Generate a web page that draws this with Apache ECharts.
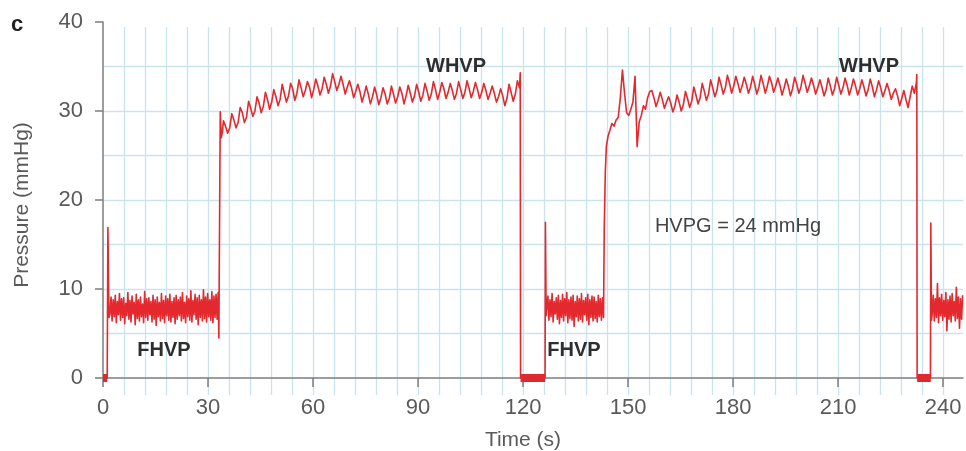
<!DOCTYPE html>
<html><head><meta charset="utf-8">
<script src="https://cdn.jsdelivr.net/npm/echarts@6/dist/echarts.min.js"></script>
<style>html,body{margin:0;padding:0;background:#fff}#c{width:966px;height:451px}</style>
</head><body><div id="c"></div>
<script>
// ---- data (time in s, pressure in mmHg) ----
const xTicks = [0, 30, 60, 90, 120, 150, 180, 210, 240];
const yTicks = [0, 10, 20, 30, 40];
const xMax = 245.7;

const start = [[0,0],[1.2,0],[1.4,16.9],[1.7,6.8]];
const fhvpStep = 0.3;
const whvpStep = 0.6;

const fhvp1Start = 2.0;
const fhvp1 = [
7.2,9.1,6.4,8.8,6.9,9.3,6.2,8.6,7.1,9.5,
6.5,8.9,6.8,9.0,6.1,8.4,7.0,9.6,6.6,8.7,
6.3,9.2,7.2,8.5,6.0,9.4,6.7,8.8,6.4,9.1,
6.9,8.3,6.2,9.7,6.8,8.9,6.5,9.0,7.1,8.6,
6.3,9.3,6.6,8.8,5.9,9.1,6.9,8.5,6.4,9.5,
6.7,8.7,6.2,9.2,7.0,8.9,6.5,9.4,6.3,8.6,
6.8,9.0,6.1,9.3,6.6,8.8,7.0,9.1,6.4,9.6,
6.7,8.5,6.2,9.2,6.9,8.9,6.5,9.8,6.3,8.7,
7.1,9.4,6.6,9.0,6.0,9.3,6.8,8.8,6.4,9.9,
6.7,9.1,6.3,9.5,6.9,8.8,6.5,9.7,6.2,9.2,
6.8,9.4,6.6,9.6
];
const rise1 = [[33.1,4.5],[33.5,29.9],[33.8,27.0],[34.1,27.6]];

const whvp1Start = 34.4;
const whvp1 = [
28.9,28.3,27.5,28.1, 29.7,29.0,28.1,28.7, 30.4,29.8,28.7,29.3, 31.1,30.3,29.4,30.0,
31.6,30.9,29.8,30.5, 32.1,31.3,30.2,31.0, 32.4,31.6,30.6,31.3, 33.0,32.0,31.0,31.7,
33.1,32.5,31.2,32.0, 33.5,32.6,31.6,32.3, 33.3,32.7,31.5,32.4, 33.6,32.8,31.8,32.5,
33.8,33.0,32.0,32.8, 34.2,33.3,32.3,33.0, 33.9,33.0,31.9,32.7, 33.4,32.6,31.5,32.2,
33.0,32.2,31.0,31.8, 32.8,31.9,30.8,31.6, 32.7,31.8,30.7,31.5, 32.6,31.9,30.8,31.4,
32.8,31.9,30.9,31.6, 32.7,32.0,30.8,31.7, 32.9,32.0,31.0,31.7, 33.0,32.1,31.1,31.8,
33.1,32.2,31.2,31.9, 33.3,32.4,31.3,32.1, 33.2,32.5,31.4,32.1, 33.1,32.3,31.3,32.0,
33.3,32.4,31.4,32.1, 33.4,32.5,31.5,32.2, 33.2,32.4,31.4,32.1, 33.1,32.3,31.3,32.0,
32.8,32.0,31.0,31.6, 32.5,31.7,30.6,31.4, 33.0,32.1,31.1,31.9, 33.4,32.6
];
const drop1 = [[119.2,34.3],[119.3,0],[126.3,0],[126.4,17.5],[126.6,7.0]];

const fhvp2Start = 126.8;
const fhvp2 = [
7.0,9.2,6.5,8.8,6.9,9.5,6.3,8.6,7.2,9.0,
6.6,9.3,6.1,8.7,6.8,9.4,6.4,8.9,7.0,9.6,
6.2,8.8,6.7,9.1,6.5,9.3,5.8,8.6,6.9,9.2,
6.4,8.9,6.6,9.5,6.3,8.7,7.1,9.0,6.5,9.4,
6.0,8.8,6.8,9.2,6.4,9.1,6.7,8.6,6.3,9.3,
6.9,8.9,6.5,9.0,6.8
];
const rise2 = [[143.2,16.6],[143.5,23.0],[143.8,26.0],[144.3,27.2]];

const whvp2Start = 144.8;
const whvp2 = [
27.8,28.6,28.3,29.0,29.3,31.5,34.6,32.0,29.8,29.5,30.2,31.0,33.9,26.0,28.8,29.5,30.6,30.2,31.5,32.2,
32.3,31.5,30.5,31.2, 32.1,31.3,30.3,31.0, 31.6,30.9,29.9,30.6, 31.8,31.0,30.0,30.7,
32.2,31.4,30.4,31.1, 32.7,31.8,30.8,31.5, 33.1,32.2,31.2,31.9, 33.5,32.6,31.6,32.3,
33.8,32.9,31.9,32.6, 34.0,33.1,32.0,32.8, 33.9,33.1,32.1,32.8, 33.8,33.0,32.0,32.7,
33.9,33.0,31.9,32.7, 34.0,33.1,32.0,32.8, 33.9,33.2,32.1,32.8, 33.7,32.9,31.8,32.6,
33.6,32.8,31.7,32.5, 33.8,33.0,32.0,32.7, 34.0,33.1,32.1,32.8, 33.7,32.9,31.9,32.6,
33.5,32.7,31.7,32.4, 33.7,32.8,31.8,32.5, 33.8,32.9,31.9,32.6, 33.7,32.9,31.8,32.6,
33.6,32.8,31.8,32.5, 33.5,32.7,31.7,32.4, 33.6,32.7,31.6,32.4, 33.4,32.6,31.6,32.3,
33.1,32.3,31.3,32.0, 32.5,31.7,30.6,31.4, 32.3,31.3,30.4,31.6,
32.8,32.0,33.2
];
const drop2 = [[232.5,34.1],[232.6,0],[236.4,0],[236.5,17.4],[236.7,6.5]];

const fhvp3Start = 236.9;
const fhvp3 = [
7.2,9.3,6.4,8.9,6.8,10.6,6.2,9.0,7.0,9.4,
6.5,8.7,6.9,9.6,5.3,8.8,6.6,9.2,6.3,9.5,
7.0,8.6,6.4,10.2,6.7,9.1,5.6,8.9,6.6,9.3
];

const zeroBars = [[[0,0],[1.2,0]], [[119.3,0],[126.3,0]], [[232.6,0],[236.5,0]]];

// ---- build ----
function sampled(t0, step, vals) {
  return vals.map((v, i) => [Math.round((t0 + i * step) * 100) / 100, v]);
}
const trace = [].concat(
  start,
  sampled(fhvp1Start, fhvpStep, fhvp1),
  rise1,
  sampled(whvp1Start, whvpStep, whvp1),
  drop1,
  sampled(fhvp2Start, fhvpStep, fhvp2),
  rise2,
  sampled(whvp2Start, whvpStep, whvp2),
  drop2,
  sampled(fhvp3Start, fhvpStep, fhvp3)
);

const RED = '#e3282e';
const GRIDC = '#c9e4ee';
const AXC = '#7d7d7d';
const TXT = '#5a5a5a';
const FONT = 'Liberation Sans, Arial, sans-serif';

const chart = echarts.init(document.getElementById('c'), null, {renderer: 'canvas'});
chart.setOption({
  animation: false,
  backgroundColor: '#fff',
  grid: [
    {left: 103, right: 3, top: 22, bottom: 73},
    {left: 103, right: 3, top: 27, bottom: 56}
  ],
  xAxis: [
    {
      gridIndex: 0, type: 'value', min: 0, max: xMax, interval: 30,
      axisLine: {show: true, onZero: false, lineStyle: {color: AXC, width: 1.5}},
      axisTick: {show: true, inside: false, length: 9, lineStyle: {color: AXC, width: 1.5},
                 customValues: xTicks},
      axisLabel: {show: true, customValues: xTicks, color: TXT, fontSize: 22, fontFamily: FONT, margin: 19,
                  showMaxLabel: true},
      splitLine: {show: false}
    },
    {
      gridIndex: 1, type: 'value', min: 0, max: xMax, interval: 6,
      axisLine: {show: false}, axisTick: {show: false}, axisLabel: {show: false},
      splitLine: {show: true, showMinLine: false, showMaxLine: false, lineStyle: {color: GRIDC, width: 1.3}}
    }
  ],
  yAxis: [
    {
      gridIndex: 0, type: 'value', min: 0, max: 40, interval: 10,
      axisLine: {show: true, lineStyle: {color: AXC, width: 1.5}},
      axisTick: {show: true, inside: false, length: 8, lineStyle: {color: AXC, width: 1.5}},
      axisLabel: {color: TXT, fontSize: 22, fontFamily: FONT, margin: 20, customValues: yTicks},
      splitLine: {show: true, showMinLine: false, showMaxLine: false, lineStyle: {color: GRIDC, width: 1.3}},
      minorTick: {show: false, splitNumber: 2},
      minorSplitLine: {show: true, lineStyle: {color: GRIDC, width: 1.3}}
    },
    {
      gridIndex: 1, type: 'value', min: 0, max: 1, show: false,
      splitLine: {show: false}
    }
  ],
  graphic: [
    {type: 'text', x: 17, y: 25, style: {text: 'c', fill: '#222', font: 'bold 22px ' + FONT,
      align: 'center', verticalAlign: 'middle', textAlign: 'center', textVerticalAlign: 'middle'}},
    {type: 'text', x: 22, y: 205, rotation: Math.PI / 2, style: {text: 'Pressure (mmHg)', fill: TXT,
      font: '21px ' + FONT, align: 'center', verticalAlign: 'middle', textAlign: 'center', textVerticalAlign: 'middle'}},
    {type: 'text', x: 523, y: 440, style: {text: 'Time (s)', fill: TXT, font: '21px ' + FONT,
      align: 'center', verticalAlign: 'middle', textAlign: 'center', textVerticalAlign: 'middle'}},
    {type: 'text', x: 456, y: 66, z: 10, style: {text: 'WHVP', fill: '#2e2e2e', font: 'bold 20px ' + FONT,
      align: 'center', verticalAlign: 'middle', textAlign: 'center', textVerticalAlign: 'middle'}},
    {type: 'text', x: 869, y: 66, z: 10, style: {text: 'WHVP', fill: '#2e2e2e', font: 'bold 20px ' + FONT,
      align: 'center', verticalAlign: 'middle', textAlign: 'center', textVerticalAlign: 'middle'}},
    {type: 'text', x: 164, y: 350, z: 10, style: {text: 'FHVP', fill: '#2e2e2e', font: 'bold 20px ' + FONT,
      align: 'center', verticalAlign: 'middle', textAlign: 'center', textVerticalAlign: 'middle'}},
    {type: 'text', x: 574, y: 350, z: 10, style: {text: 'FHVP', fill: '#2e2e2e', font: 'bold 20px ' + FONT,
      align: 'center', verticalAlign: 'middle', textAlign: 'center', textVerticalAlign: 'middle'}},
    {type: 'text', x: 738, y: 226, z: 10, style: {text: 'HVPG = 24 mmHg', fill: '#444', font: '20px ' + FONT,
      align: 'center', verticalAlign: 'middle', textAlign: 'center', textVerticalAlign: 'middle'}}
  ],
  series: [
    {type: 'line', xAxisIndex: 1, yAxisIndex: 1, data: [], silent: true},
    {
      type: 'line', xAxisIndex: 0, yAxisIndex: 0, data: trace, showSymbol: false, symbol: 'none',
      clip: false, z: 3,
      lineStyle: {color: RED, width: 1.6, join: 'round'}
    }
  ].concat(zeroBars.map(b => ({
      type: 'line', xAxisIndex: 0, yAxisIndex: 0, data: b, showSymbol: false, symbol: 'none',
      clip: false, z: 4, lineStyle: {color: '#dd2a30', width: 8, cap: 'butt'}
  })))
});
</script>
</body></html>
